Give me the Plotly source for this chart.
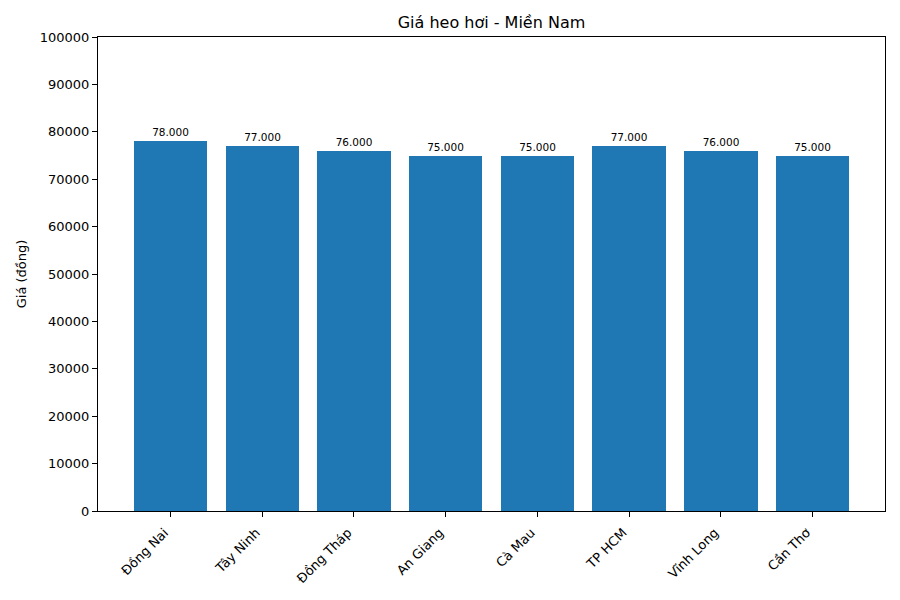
import plotly.graph_objects as go

regions = ["Đồng Nai", "Tây Ninh", "Đồng Tháp", "An Giang", "Cà Mau", "TP HCM", "Vĩnh Long", "Cần Thơ"]
prices = [78000, 77000, 76000, 75000, 75000, 77000, 76000, 75000]
price_labels = ["78.000", "77.000", "76.000", "75.000", "75.000", "77.000", "76.000", "75.000"]
y_ticks = [0, 10000, 20000, 30000, 40000, 50000, 60000, 70000, 80000, 90000, 100000]

FONT = "DejaVu Sans"

fig = go.Figure()
fig.add_trace(go.Bar(
    x=list(range(len(regions))),
    y=prices,
    width=0.8,
    marker=dict(color="#1f77b4", line=dict(width=0)),
    text=price_labels,
    textposition="outside",
    textfont=dict(family=FONT, size=10.5, color="black"),
    cliponaxis=False,
))

fig.update_layout(
    width=900, height=600,
    margin=dict(l=90, r=23, t=29, b=97),
    paper_bgcolor="white", plot_bgcolor="white",
    font=dict(family=FONT, color="black"),
    showlegend=False,
    title=dict(text="Giá heo hơi - Miền Nam", x=0.5, xref="paper", xanchor="center",
               y=1, yref="container", yanchor="top", pad=dict(t=9),
               font=dict(family=FONT, size=16, color="black")),
    bargap=0,
)
fig.update_xaxes(
    range=[-0.79, 7.79],
    tickmode="array", tickvals=list(range(len(regions))), ticktext=regions,
    tickangle=-45, ticklabelshift=-6, ticklabelstandoff=3,
    ticks="outside", ticklen=5, tickcolor="black", tickwidth=1,
    showline=True, linecolor="black", linewidth=1, mirror=True,
    showgrid=False, zeroline=False,
    tickfont=dict(family=FONT, size=13, color="black"),
)
fig.update_yaxes(
    range=[0, 100000],
    tickmode="array", tickvals=y_ticks, ticktext=[str(v) for v in y_ticks],
    ticks="outside", ticklen=5, tickcolor="black", tickwidth=1,
    showline=True, linecolor="black", linewidth=1, mirror=True,
    showgrid=False, zeroline=False,
    tickfont=dict(family=FONT, size=13, color="black"),
    title=dict(text="Giá (đồng)", font=dict(family=FONT, size=13, color="black"), standoff=10),
)

fig.write_html("out.html")
